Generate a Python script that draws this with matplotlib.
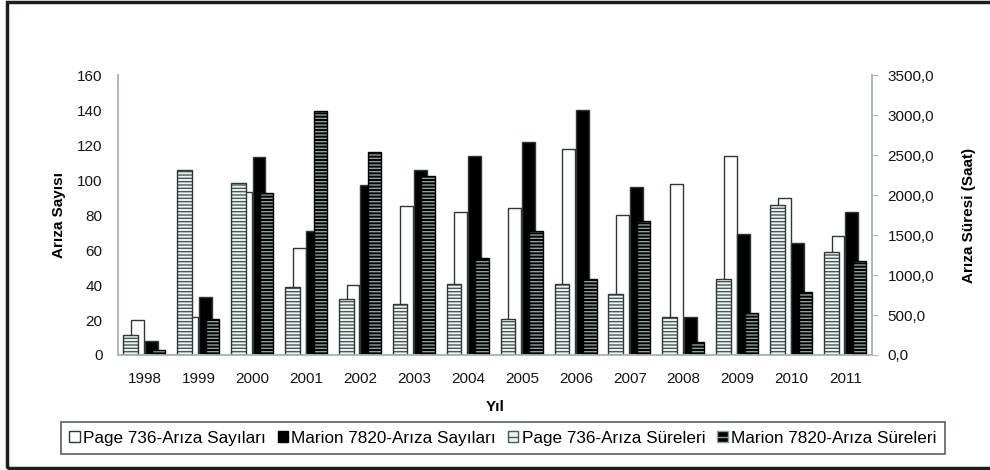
import matplotlib.pyplot as plt
import numpy as np
from matplotlib.patches import Patch, Rectangle

plt.rcParams['font.family'] = ['Liberation Sans', 'DejaVu Sans']
plt.rcParams['hatch.linewidth'] = 1.0

# Veriler
years = ['1998', '1999', '2000', '2001', '2002', '2003', '2004',
         '2005', '2006', '2007', '2008', '2009', '2010', '2011']
page_count = [20, 22, 93, 61, 40, 85, 82, 84, 118, 80, 98, 114, 90, 68]
marion_count = [8, 33, 113, 71, 97, 106, 114, 122, 140, 96, 22, 69, 64, 82]
page_hours = [250, 2310, 2150, 845, 700, 635, 885, 450, 885, 760, 480, 945, 1875, 1285]
marion_hours = [60, 450, 2030, 3050, 2535, 2235, 1210, 1550, 950, 1675, 165, 520, 790, 1175]

labels = ['Page 736-Arıza Sayıları', 'Marion 7820-Arıza Sayıları',
          'Page 736-Arıza Süreleri', 'Marion 7820-Arıza Süreleri']

axis_col = '#a9b9b9'
edge_col = '#2e3838'
light_fill = '#eef3f3'
light_hatch = '#4a5858'
dark_hatch = '#8fa0a0'
hatch = '-----'

fig = plt.figure(figsize=(9.9, 4.7), dpi=100)
ax = fig.add_axes([0.119, 0.2447, 0.762, 0.595])
ax2 = ax.twinx()

x = np.arange(len(years))

# Arıza sayıları (sol eksen)
ax.bar(x - 0.135, page_count, 0.24, color='white', edgecolor=edge_col, linewidth=1.0)
ax.bar(x + 0.12, marion_count, 0.24, color='black', edgecolor=edge_col, linewidth=1.0)

# Arıza süreleri (sağ eksen), çizgili
ax2.bar(x - 0.26, page_hours, 0.27, color=light_fill, edgecolor=light_hatch,
        hatch=hatch, linewidth=0)
ax2.bar(x - 0.26, page_hours, 0.27, fill=False, edgecolor=edge_col, linewidth=1.0)
ax2.bar(x + 0.26, marion_hours, 0.25, color='black', edgecolor=dark_hatch,
        hatch=hatch, linewidth=0)
ax2.bar(x + 0.26, marion_hours, 0.25, fill=False, edgecolor='black', linewidth=1.0)

ax.set_xlim(-0.5, len(years) - 0.5)
ax.set_ylim(0, 160)
ax.set_yticks(range(0, 161, 20))
ax2.set_ylim(0, 3500)
ax2.set_yticks(range(0, 3501, 500))
ax2.set_yticklabels([f'{v},0' for v in range(0, 3501, 500)])
ax.set_xticks(x)
ax.set_xticklabels(years)

for a in (ax, ax2):
    a.spines['top'].set_visible(False)
    for s in ('left', 'right', 'bottom'):
        a.spines[s].set_color(axis_col)
        a.spines[s].set_linewidth(1.2)
ax.tick_params(axis='y', length=0, pad=11, labelsize=11, labelcolor='#151515')
ax.tick_params(axis='x', length=0, pad=12, labelsize=11, labelcolor='#151515')
ax2.tick_params(axis='y', length=4, color=axis_col, pad=7, labelsize=11,
                labelcolor='#151515')

ax.set_ylabel('Arıza Sayısı', fontsize=11, fontweight='bold', labelpad=8)
ax2.set_ylabel('Arıza Süresi (Saat)', fontsize=11, fontweight='bold', labelpad=20)
ax.set_xlabel('Yıl', fontsize=11, fontweight='bold', labelpad=10)

handles = [
    Patch(facecolor='white', edgecolor=edge_col),
    Patch(facecolor='black', edgecolor='black'),
    Patch(facecolor=light_fill, edgecolor=light_hatch, hatch='--'),
    Patch(facecolor='black', edgecolor=dark_hatch, hatch='--'),
]
leg = fig.legend(handles, labels, loc='center', bbox_to_anchor=(0.508, 0.068),
                 ncol=4, fontsize=12.3, frameon=True, fancybox=False,
                 handlelength=0.6, handleheight=0.6, handletextpad=0.2,
                 columnspacing=0.7, borderpad=0.5)
leg.get_frame().set_edgecolor(edge_col)
leg.get_frame().set_linewidth(1.2)

# Dış çerçeve
fig.patches.append(Rectangle((0.007, 0.004), 1.1, 0.992, transform=fig.transFigure,
                             fill=False, edgecolor='#1a2020', linewidth=2.5))

fig.savefig('out.png', dpi=100)
